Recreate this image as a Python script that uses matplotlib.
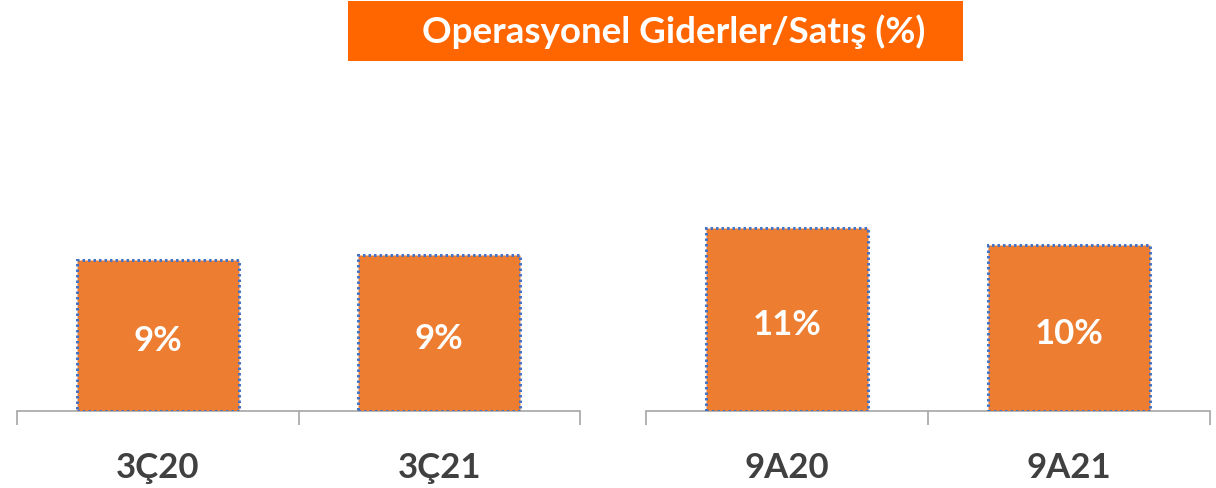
import matplotlib
matplotlib.use("Agg")
import matplotlib.pyplot as plt
from matplotlib.patches import Rectangle

plt.rcParams['font.family'] = ['Lato', 'DejaVu Sans']

title = "Operasyonel Giderler/Satış (%)"
left_categories = ["3Ç20", "3Ç21"]
left_values = [9.1, 9.4]
left_labels = ["9%", "9%"]
right_categories = ["9A20", "9A21"]
right_values = [11.0, 10.0]
right_labels = ["11%", "10%"]

W, H = 1216, 489
fig = plt.figure(figsize=(W / 100, H / 100), dpi=100)

bar_color = "#ED7D31"
edge_color = "#4472C4"
axis_color = "#A6A6A6"
text_color = "#404040"

def make_axes(x0, x1, cats, vals, labels):
    bottom = 412
    top = 100
    ax = fig.add_axes([x0 / W, 1 - bottom / H, (x1 - x0) / W, (bottom - top) / H])
    xs = list(range(len(cats)))
    ax.bar(xs, vals, width=0.575, color=bar_color, edgecolor=edge_color,
           linewidth=2.2, linestyle=(0, (0.8, 1.0)), zorder=3)
    for x, v, lab in zip(xs, vals, labels):
        ax.text(x, v / 2 - 0.3, lab, ha="center", va="center", color="white",
                fontsize=25, fontweight="bold", zorder=4)
    ax.set_xlim(-0.5, len(cats) - 0.5)
    ax.set_ylim(0, 18.75)
    for s in ["top", "left", "right"]:
        ax.spines[s].set_visible(False)
    ax.spines["bottom"].set_color(axis_color)
    ax.spines["bottom"].set_linewidth(1.2)
    ax.set_yticks([])
    ax.set_xticks([i - 0.5 for i in range(len(cats) + 1)])
    ax.set_xticklabels([])
    ax.tick_params(axis="x", length=10, width=1.2, color=axis_color)
    for x, c in zip(xs, cats):
        ax.text(x, -0.18, c, transform=ax.get_xaxis_transform(), ha="center",
                va="center", fontsize=25, fontweight="bold", color=text_color)
    return ax

make_axes(17, 580, left_categories, left_values, left_labels)
make_axes(646, 1210, right_categories, right_values, right_labels)

# title box
fig.patches.append(Rectangle((348 / W, 1 - 62 / H), (963 - 348) / W, 60 / H,
                             transform=fig.transFigure, facecolor="#FF6600",
                             edgecolor="none", zorder=0))
fig.text(674 / W, 1 - 32 / H, title, ha="center", va="center", color="white",
         fontsize=26.5, fontweight="bold")

fig.savefig("out.png", dpi=100)
